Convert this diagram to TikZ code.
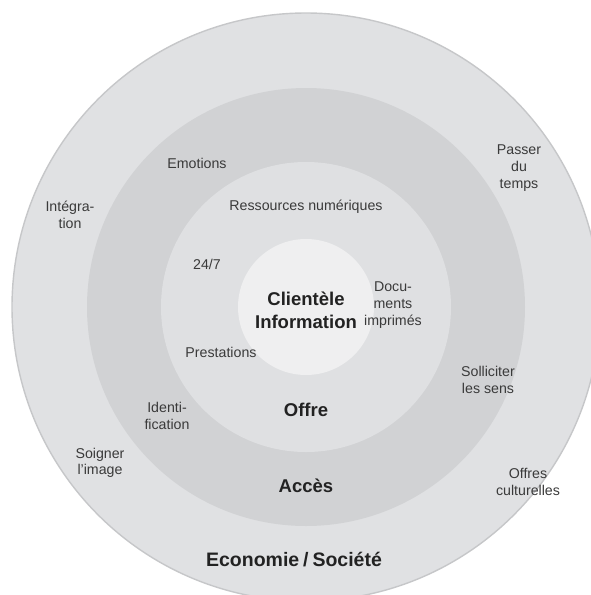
\documentclass[tikz,border=0pt]{standalone}
\usepackage{fontspec}
\setmainfont{Liberation Sans}
\definecolor{ringouter}{HTML}{E0E1E3}
\definecolor{ringedge}{HTML}{C6C7C9}
\definecolor{ringmid}{HTML}{D1D2D4}
\definecolor{ringinner}{HTML}{DFE0E2}
\definecolor{core}{HTML}{EFEFF0}
\definecolor{txt}{HTML}{3A3A3A}
\definecolor{txtbold}{HTML}{222222}
\tikzset{
  ring/.style={circle, inner sep=0pt, outer sep=0pt},
  lbl/.style={text=txt, align=center, inner sep=0pt,
    font=\fontsize{14.2}{16.6}\selectfont},
  title/.style={text=txtbold, align=center, inner sep=0pt,
    font=\fontsize{18.5}{22.7}\selectfont\bfseries},
}
\begin{document}
\begin{tikzpicture}[x=1pt, y=-1pt]
  \useasboundingbox (0,0) rectangle (591,595);
  \clip (0,0) rectangle (591,595);
  % concentric rings
  \node[ring, fill=ringouter, draw=ringedge, line width=1.4pt, minimum size=588pt] (eco) at (306,307) {};
  \node[ring, fill=ringmid, minimum size=438pt] (acces) at (306,307) {};
  \node[ring, fill=ringinner, minimum size=290pt] (offre) at (306,307) {};
  \node[ring, fill=core, minimum size=136pt] (client) at (306,307) {};
  % ring titles
  \node[title] (tclient) at (306,310) {Clientèle\\Information};
  \node[title] (toffre) at (306,410) {Offre};
  \node[title] (tacces) at (306,486) {Accès};
  \node[title, font=\fontsize{19.5}{22.7}\selectfont\bfseries] (teco) at (294,560) {Economie\hspace{0.2em}/\hspace{0.2em}Société};
  % inner ring labels
  \node[lbl] (ress) at (306,207) {Ressources numériques};
  \node[lbl] (h24) at (207,264) {24/7};
  \node[lbl] (docs) at (393,305) {Docu-\\ments\\imprimés};
  \node[lbl] (prest) at (221,352) {Prestations};
  % middle ring labels
  \node[lbl] (emo) at (197,163) {Emotions};
  \node[lbl] (ident) at (167,416) {Identi-\\fication};
  \node[lbl] (sens) at (488,380) {Solliciter\\les sens};
  % outer ring labels
  \node[lbl] (integ) at (70,215) {Intégra-\\tion};
  \node[lbl] (temps) at (519,168) {Passer\\du\\temps};
  \node[lbl] (image) at (100,463) {Soigner\\l’image};
  \node[lbl] (cult) at (528,482) {Offres\\culturelles};
\end{tikzpicture}
\end{document}
